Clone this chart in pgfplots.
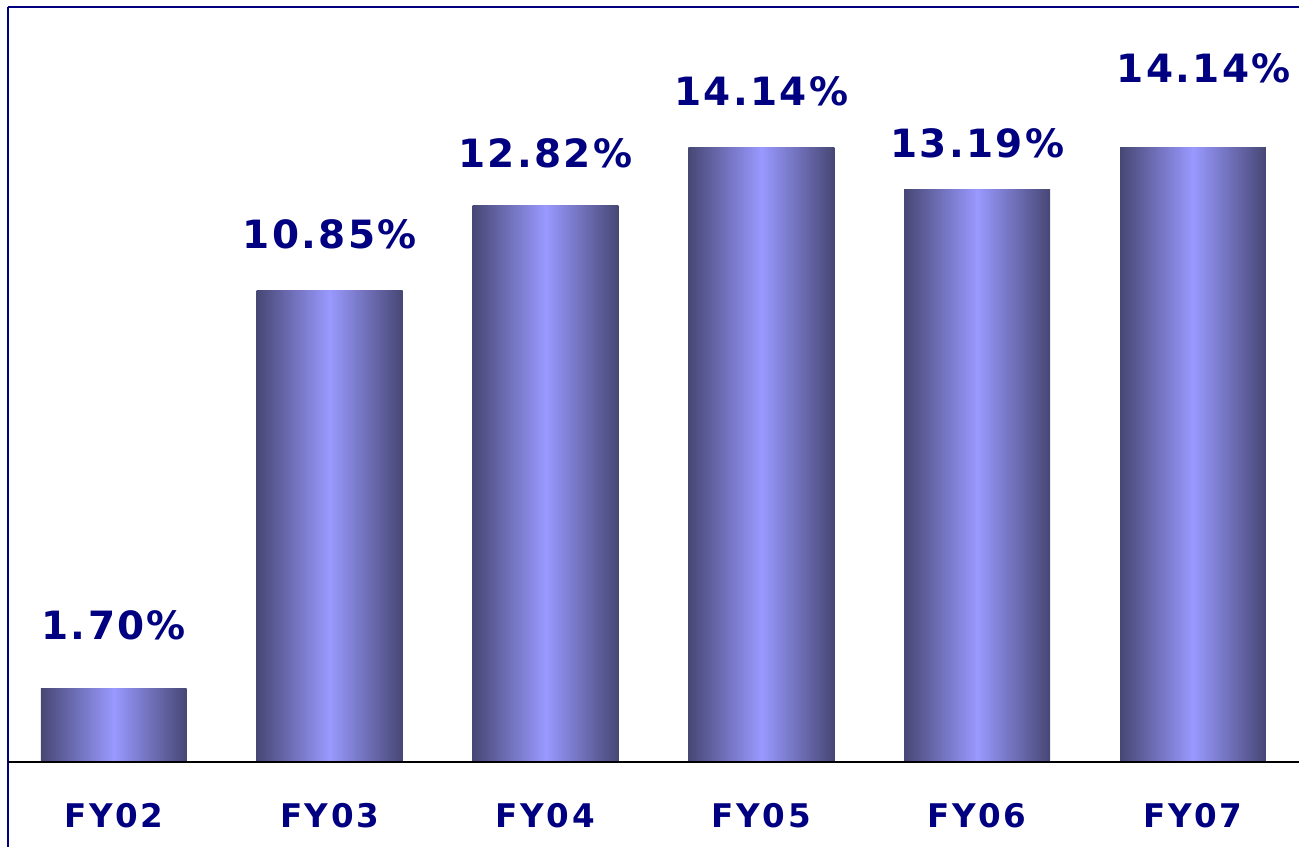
\documentclass[border=0pt]{standalone}
\usepackage{pgfplots}
\pgfplotsset{compat=1.18}
\usepackage{fontspec}
\setmainfont{DejaVu Sans}
\newfontfamily\lab[LetterSpace=6]{DejaVu Sans}
\newfontfamily\tlab[LetterSpace=8]{DejaVu Sans}
\definecolor{navy}{HTML}{000080}
\definecolor{barDark}{HTML}{474775}
\definecolor{barLight}{HTML}{9999FF}
\begin{document}
\begin{tikzpicture}
\begin{axis}[
  scale only axis,
  width=646pt, height=378pt,
  xmin=-0.49, xmax=5.49,
  ymin=0, ymax=17.38,
  axis line style={draw=none},
  major tick length=0pt,
  ytick=\empty,
  xtick={0,1,2,3,4,5},
  xticklabels={FY02,FY03,FY04,FY05,FY06,FY07},
  xticklabel style={anchor=center, yshift=-26.5pt, font=\tlab\bfseries\fontsize{16.3}{18}\selectfont, text=navy},
  clip=false,
  gbar/.style={ybar, bar width=0.676, bar shift=0pt, draw=none, mark=none, left color=barDark, right color=barDark, middle color=barLight},
]
\addplot[gbar] coordinates {(0,1.70)};
\addplot[gbar] coordinates {(1,10.85)};
\addplot[gbar] coordinates {(2,12.82)};
\addplot[gbar] coordinates {(3,14.14)};
\addplot[gbar] coordinates {(4,13.19)};
\addplot[gbar] coordinates {(5,14.14)};
\draw[navy, line width=1.2pt] (rel axis cs:0,1) -- (rel axis cs:1,1);
\draw[navy, line width=1.2pt] (rel axis cs:0,1) -- ([yshift=-42.5pt]rel axis cs:0,0);
\draw[black, line width=1.2pt] (rel axis cs:0,0) -- (rel axis cs:1,0);
\begin{scope}[every node/.style={text=navy, font=\lab\bfseries\fontsize{19.5}{22}\selectfont, anchor=center}]
\node at (axis cs:0,3.15) {1.70\%};
\node at (axis cs:1,12.14) {10.85\%};
\node at (axis cs:2,14.02) {12.82\%};
\node at (axis cs:3,15.45) {14.14\%};
\node at (axis cs:4,14.25) {13.19\%};
\node at (axis cs:5.05,15.98) {14.14\%};
\end{scope}
\end{axis}
\path ([xshift=-4pt,yshift=-42.5pt]current axis.south west) rectangle ([yshift=3.5pt]current axis.north east);
\end{tikzpicture}
\end{document}
